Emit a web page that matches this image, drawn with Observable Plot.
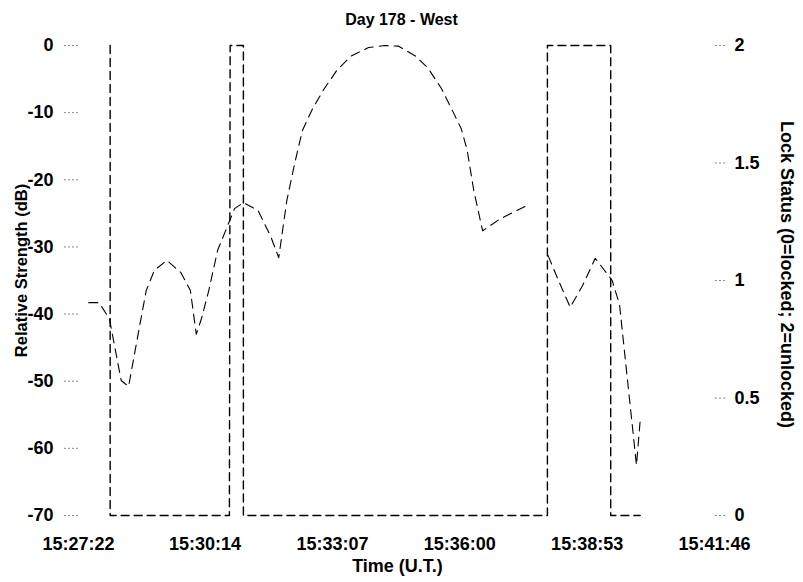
<!DOCTYPE html>
<html>
<head>
<meta charset="utf-8">
<script src="https://cdn.jsdelivr.net/npm/d3@7"></script>
<script src="https://cdn.jsdelivr.net/npm/@observablehq/plot@0.6"></script>
<style>
  html, body { margin: 0; padding: 0; background: #fff; }
</style>
</head>
<body>
<div id="chart"></div>
<script>
// Relative signal strength (dB) sampled over the pass; null = no reading
const strengthTimes = [
  "15:27:36", "15:27:50", "15:28:04", "15:28:20", "15:28:30", "15:28:44",
  "15:28:54", "15:29:05", "15:29:22", "15:29:41", "15:29:54", "15:30:02",
  "15:30:09", "15:30:19", "15:30:31", "15:30:54", "15:31:06", "15:31:26",
  "15:31:43", "15:31:54", "15:32:05", "15:32:15", "15:32:26", "15:32:40",
  "15:32:56", "15:33:13", "15:33:32", "15:33:56", "15:34:18", "15:34:37",
  "15:35:00", "15:35:17", "15:35:35", "15:35:50", "15:36:02", "15:36:10",
  "15:36:19", "15:36:31", "15:36:55", "15:37:32", "15:37:45", "15:38:00",
  "15:38:14", "15:38:30", "15:38:47", "15:39:04", "15:39:27", "15:39:37",
  "15:40:00", "15:40:05"
];
const strengthDb = [
  -38.3, -38.3, -40.7, -49.9, -50.8, -42.4,
  -36.5, -33.5, -32.0, -33.8, -36.5, -43.0,
  -40.7, -36.5, -30.5, -24.3, -23.4, -24.6,
  -28.4, -31.6, -23.1, -17.9, -12.7, -9.4,
  -6.4, -3.7, -1.6, -0.3, 0.0, -0.1,
  -1.6, -3.4, -6.4, -9.7, -12.4, -15.6,
  -21.6, -27.6, -25.8, -23.8, null, -31.3,
  -35.0, -39.0, -35.7, -31.7, -35.0, -38.6,
  -62.5, -55.9
];

// Receiver lock status (0 = locked, 2 = unlocked)
const lockTimes = [
  "15:28:05", "15:28:05", "15:30:47", "15:30:48", "15:31:06", "15:31:06",
  "15:37:59", "15:37:59", "15:39:25", "15:39:25", "15:40:05"
];
const lockStatus = [2, 0, 0, 2, 2, 0, 0, 2, 2, 0, 0];

// Axis ticks
const timeTicks = ["15:27:22", "15:30:14", "15:33:07", "15:36:00", "15:38:53", "15:41:46"];
const dbTicks = [0, -10, -20, -30, -40, -50, -60, -70];
const lockTicks = [0, 0.5, 1, 1.5, 2];

const parse = d3.utcParse("%H:%M:%S");
const strength = strengthTimes.map((t, i) => ({time: parse(t), db: strengthDb[i]}));
const lock = lockTimes.map((t, i) => ({time: parse(t), status: lockStatus[i]}));

// The lock axis (0..2) shares the plot height with the dB axis (-70..0)
const lockToDb = s => -70 + s * 35;
const dbToLock = d => (d + 70) / 35;

const font = "'Liberation Sans', Arial, sans-serif";

const chart = Plot.plot({
  width: 803,
  height: 582,
  marginTop: 45,
  marginBottom: 67,
  marginLeft: 78,
  marginRight: 89,
  style: {fontFamily: font, fontSize: "18px", fontWeight: "bold", background: "#fff", color: "#000"},
  x: {type: "utc", domain: [parse(timeTicks[0]), parse(timeTicks[timeTicks.length - 1])]},
  y: {domain: [-70, 0]},
  marks: [
    Plot.axisX({
      ticks: timeTicks.map(parse),
      tickFormat: d3.utcFormat("%H:%M:%S"),
      tickSize: 0,
      tickPadding: 22,
      fontSize: 18,
      label: null
    }),
    Plot.axisY({
      anchor: "left",
      ticks: dbTicks,
      tickFormat: d => String(d),
      tickSize: 16,
      tickPadding: 9,
      fontSize: 18,
      stroke: "#888",
      strokeDasharray: "2,2",
      label: null
    }),
    Plot.axisY({
      anchor: "right",
      ticks: lockTicks.map(lockToDb),
      tickFormat: d => String(dbToLock(d)),
      tickSize: 10,
      tickPadding: 10,
      fontSize: 18,
      stroke: "#888",
      strokeDasharray: "2,2",
      label: null
    }),
    Plot.line(lock, {
      x: "time",
      y: d => lockToDb(d.status),
      stroke: "#000",
      strokeWidth: 1.4,
      strokeDasharray: "8,5"
    }),
    Plot.line(strength, {
      x: "time",
      y: "db",
      stroke: "#000",
      strokeWidth: 1.1,
      strokeDasharray: "9,6"
    }),
    Plot.text(["Day 178 - West"], {frameAnchor: "top", textAnchor: "middle", dx: 5, dy: -32, fontSize: 16}),
    Plot.text(["Time (U.T.)"], {frameAnchor: "bottom", textAnchor: "middle", dx: 1, dy: 56, fontSize: 18}),
    Plot.text(["Relative Strength (dB)"], {frameAnchor: "left", textAnchor: "middle", dx: -57, dy: -10, rotate: -90, fontSize: 16.5}),
    Plot.text(["Lock Status (0=locked; 2=unlocked)"], {frameAnchor: "right", textAnchor: "middle", dx: 72, dy: -6, rotate: 90, fontSize: 18})
  ]
});

document.getElementById("chart").appendChild(chart);
</script>
</body>
</html>
